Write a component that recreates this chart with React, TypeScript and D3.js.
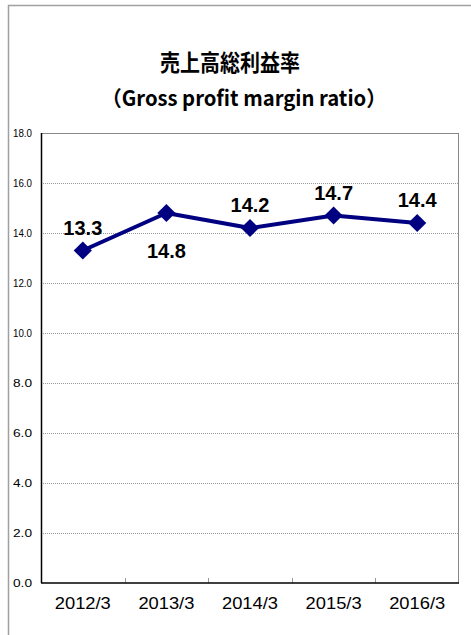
import React from 'react';
import * as d3 from 'd3';

const categories = ['2012/3', '2013/3', '2014/3', '2015/3', '2016/3'];
const values = [13.3, 14.8, 14.2, 14.7, 14.4];
const labelAbove = [true, false, true, true, true];
const yTicks = [0, 2, 4, 6, 8, 10, 12, 14, 16, 18];

const W = 471;
const H = 635;
const margin = { top: 133, right: 12, bottom: 52, left: 41 };

const App = () => {
  const innerW = W - margin.left - margin.right;
  const innerH = H - margin.top - margin.bottom;

  const x = d3.scaleBand().domain(categories).range([0, innerW]).padding(0);
  const y = d3.scaleLinear().domain([0, 18]).range([innerH, 0]);
  const cx = (c: string) => x(c)! + x.bandwidth() / 2;

  const line = d3.line<number>()
    .x((_, i) => cx(categories[i]))
    .y(d => y(d));

  // square rotated 45deg -> even diamond like the original marker
  const marker = d3.symbol().type(d3.symbolSquare).size(165)();
  const sans = '"Liberation Sans", Arial, sans-serif';

  return (
    <div style={{ position: 'fixed', left: 0, top: 0, width: W, height: H, background: '#fff' }}>
      <svg width={W} height={H} style={{ display: 'block' }}>
        <rect x={8.5} y={5.5} width={W + 10} height={H + 10} fill="#fff" stroke="#a0a0a0" strokeWidth={1.5} />

        <text x={230} y={71} textAnchor="middle" fontSize={23} fontWeight="bold" textLength={140}
          lengthAdjust="spacingAndGlyphs" fontFamily='"Noto Sans CJK JP", sans-serif' fill="#000">売上高総利益率</text>
        <text x={244} y={106} textAnchor="middle" fontSize={21} fontWeight="bold" textLength={285}
          lengthAdjust="spacingAndGlyphs" fontFamily='"Noto Sans CJK JP", sans-serif' fill="#000">（Gross profit margin ratio）</text>

        <g transform={`translate(${margin.left},${margin.top})`}>
          {yTicks.filter(t => t > 0 && t < 18).map(t => (
            <line key={t} x1={0} x2={innerW} y1={Math.round(y(t)) + 0.5} y2={Math.round(y(t)) + 0.5}
              stroke="#999" strokeDasharray="1,1" />
          ))}
          <line x1={0} x2={innerW} y1={0.5} y2={0.5} stroke="#888" />
          <line x1={innerW - 0.5} x2={innerW - 0.5} y1={0} y2={innerH} stroke="#888" />
          {categories.slice(1).map(c => (
            <line key={c} x1={Math.round(x(c)!) + 0.5} x2={Math.round(x(c)!) + 0.5} y1={innerH} y2={innerH - 5} stroke="#999" />
          ))}
          <line x1={0.5} x2={0.5} y1={0} y2={innerH} stroke="#000" strokeWidth={1.5} />
          <line x1={0} x2={innerW} y1={innerH} y2={innerH} stroke="#000" strokeWidth={1.5} />

          {yTicks.map(t => (
            <text key={t} x={-9} y={y(t)} dy="0.35em" textAnchor="end" fontSize={10} textLength={19}
              lengthAdjust="spacingAndGlyphs" fontFamily={sans} fill="#000">{t.toFixed(1)}</text>
          ))}
          {categories.map(c => (
            <text key={c} x={cx(c)} y={innerH + 26} textAnchor="middle" fontSize={16} textLength={56}
              lengthAdjust="spacingAndGlyphs" fontFamily={sans} fill="#000">{c}</text>
          ))}

          <path d={line(values) ?? ''} fill="none" stroke="#000080" strokeWidth={4} strokeLinejoin="round" />
          {values.map((v, i) => (
            <path key={i} d={marker!} transform={`translate(${cx(categories[i])},${y(v)}) rotate(45)`} fill="#000080" />
          ))}
          {values.map((v, i) => (
            <text key={i} x={cx(categories[i])}
              y={labelAbove[i] ? y(v) - 16 : y(v) + 45} textAnchor="middle" fontSize={20} fontWeight="bold"
              fontFamily={sans} fill="#000">{v.toFixed(1)}</text>
          ))}
        </g>
      </svg>
    </div>
  );
};

export default App;
